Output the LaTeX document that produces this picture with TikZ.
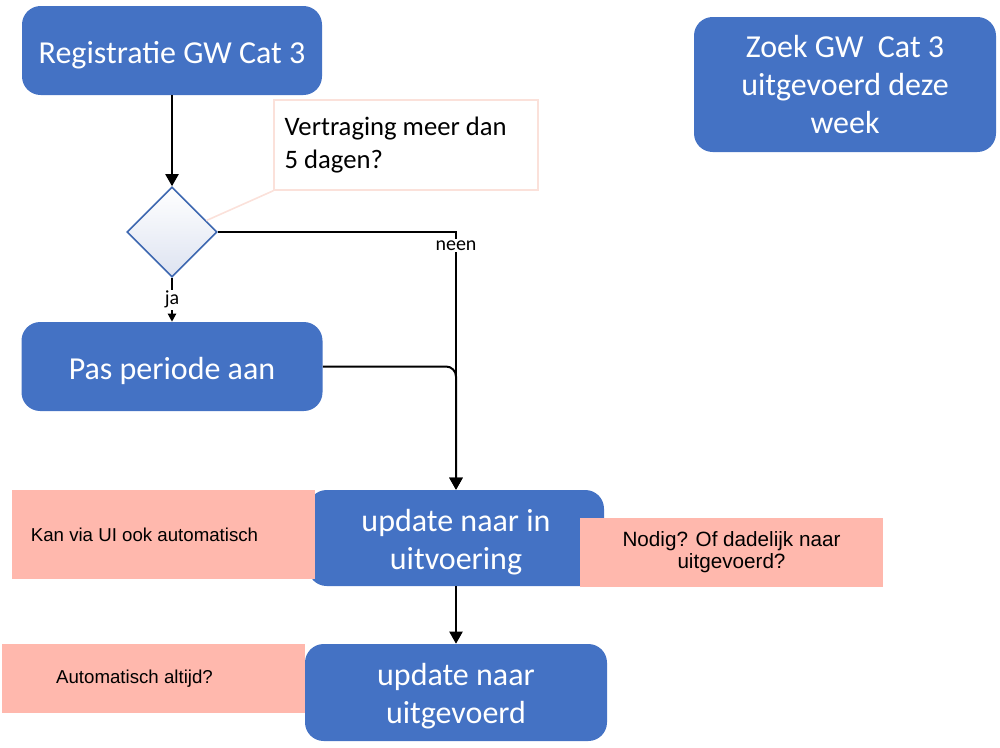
\documentclass[tikz,border=0pt]{standalone}
\usepackage{fontspec}
\setmainfont{Carlito}
\newfontfamily\arialfont{Liberation Sans}
\usetikzlibrary{shapes.geometric,arrows.meta,calc}
\definecolor{boxblue}{HTML}{4472C4}
\definecolor{pinkfill}{HTML}{FFB8AD}
\definecolor{callpink}{HTML}{FBE1DA}
\definecolor{diaedge}{HTML}{3D67B0}
\definecolor{diafill}{HTML}{DDE3F1}
\begin{document}
\begin{tikzpicture}[x=0.75pt,y=-0.75pt,
  bluebox/.style={rectangle, rounded corners=14pt, fill=boxblue, text=white,
    font=\fontsize{24pt}{28.5pt}\selectfont, align=center, inner sep=0pt},
  oneline/.style={text height=22pt, text depth=2.8pt},
  twoline/.style={text height=49pt, text depth=2.1pt},
  pinkbox/.style={rectangle, fill=pinkfill, text=black, inner sep=0pt,
    font=\arialfont\fontsize{14pt}{16.5pt}\selectfont, align=center,
    minimum width=227.25pt},
  callbox/.style={rectangle, draw=callpink, line width=1.2pt, text=black,
    font=\fontsize{20pt}{25pt}\selectfont, align=flush left, inner xsep=8pt,
    text width=182pt, minimum height=67.5pt},
  decision/.style={diamond, draw=diaedge, line width=1.2pt, top color=white,
    bottom color=diafill, minimum width=67.5pt, minimum height=67.5pt, inner sep=0pt},
  arr/.style={draw=black, line width=1.5pt, -{Triangle[length=9pt,width=9.75pt]}},
  arrsmall/.style={draw=black, line width=1.5pt, -{Triangle[length=6pt,width=6pt]}},
  lbl/.style={fill=white, inner sep=1pt, text=black, font=\fontsize{15pt}{18pt}\selectfont},
  calline/.style={draw=callpink, line width=1.2pt}
]
\useasboundingbox (0,0) rectangle (1000,747);

% blue process boxes
\node[bluebox, oneline, minimum width=225pt, minimum height=66.75pt] (reg) at (172,50.5) {Registratie GW Cat 3};
\node[bluebox, minimum width=226.5pt, minimum height=101.25pt] (zoek) at (845,84.5) {Zoek GW\ \ Cat 3\\uitgevoerd deze\\week};
\node[bluebox, oneline, minimum width=225.75pt, minimum height=66.75pt] (pas) at (172,366.5) {Pas periode aan};
\node[bluebox, twoline, minimum width=222pt, minimum height=72pt] (inuit) at (456,538) {update naar in\\uitvoering};
\node[bluebox, twoline, minimum width=226.5pt, minimum height=72.75pt] (uitg) at (456,692.5) {update naar\\uitgevoerd};

% decision and callout
\node[decision] (dia) at (172,232) {};
\node[callbox] (call) at (406,145) {Vertraging meer dan\\5 dagen?};
\draw[calline] (call.south west) -- ($(dia.north east)!0.5!(dia.east)$);

% connectors
\coordinate (corner) at (inuit.north |- dia.east);
\draw[arr] (reg.south) -- (dia.north);
\draw[arr] (dia.east) -- (corner) -- (inuit.north);
\node[lbl] (neen) at ([yshift=-10pt]corner) {neen};
\draw[arr, rounded corners=7.5pt] (pas.east) -| (inuit.north);
\draw[arrsmall] (dia.south) -- node[lbl] (ja) {ja} (dia.south |- pas.north);
\draw[arr] (inuit.south) -- (uitg.north);

% pink comment boxes
\node[pinkbox, minimum height=66.75pt] (p1) at (163.5,534.5) {\hspace*{-28.5pt}Kan via UI ook automatisch};
\node[pinkbox, minimum height=51.75pt, font=\arialfont\fontsize{15.5pt}{16.5pt}\selectfont] (p2) at (731.5,552.5) {Nodig? Of dadelijk naar\\uitgevoerd?};
\node[pinkbox, minimum height=51.75pt] (p3) at (153.5,678.5) {\hspace*{-28.5pt}Automatisch altijd?};
\end{tikzpicture}
\end{document}
